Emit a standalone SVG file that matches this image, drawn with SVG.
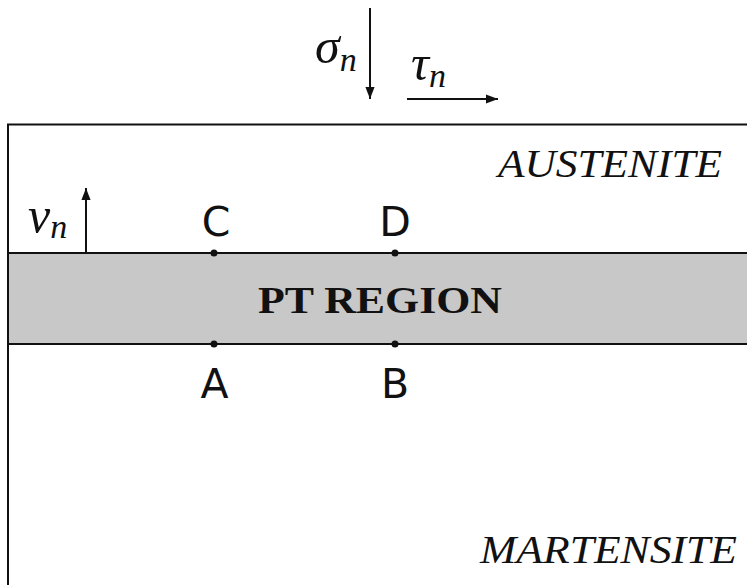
<svg xmlns="http://www.w3.org/2000/svg" width="747" height="585" viewBox="0 0 747 585">
<style>
.ln{stroke:#111;stroke-width:2;fill:none}
.ar{stroke:#111;stroke-width:2;fill:none}
.pt{font-family:"DejaVu Sans",sans-serif;font-size:41px;fill:#111;text-anchor:middle}
.math{font-family:"Liberation Serif",serif;font-style:italic;fill:#111}
.reg{font-family:"Liberation Serif",serif;font-style:italic;font-size:40px;fill:#111}
.dot{fill:#111}
</style>
<defs>
<marker id="ah2" viewBox="0 0 10 10" refX="10" refY="5" markerWidth="12" markerHeight="12" markerUnits="userSpaceOnUse" orient="auto">
<path d="M0,1.2 L10,5 L0,8.8 z" fill="#111"/>
</marker>
</defs>
<rect width="747" height="585" fill="#fff"/>
<g id="domain">
<rect x="8" y="253" width="745" height="91" fill="#c8c8c8"/>
<path class="ln" d="M8,585 V124.5 H747"/>
<path class="ln" d="M8,253 H747 M8,344 H747"/>
</g>
<g id="austenite"><text class="reg" x="498" y="177" textLength="224" lengthAdjust="spacingAndGlyphs">AUSTENITE</text></g>
<g id="martensite"><text class="reg" x="480" y="563" textLength="257" lengthAdjust="spacingAndGlyphs">MARTENSITE</text></g>
<g id="pt-region"><text x="258" y="313" font-family="Liberation Serif, serif" font-weight="bold" font-size="37" fill="#111" textLength="244" lengthAdjust="spacingAndGlyphs">PT REGION</text></g>
<g id="point-C"><circle class="dot" cx="214" cy="253" r="3.5"/><text class="pt" x="216" y="236">C</text></g>
<g id="point-D"><circle class="dot" cx="395" cy="253" r="3.5"/><text class="pt" x="395" y="236">D</text></g>
<g id="point-A"><circle class="dot" cx="214" cy="344" r="3.5"/><text class="pt" x="214.5" y="398">A</text></g>
<g id="point-B"><circle class="dot" cx="395" cy="344" r="3.5"/><text class="pt" x="395" y="398">B</text></g>
<g id="connectors">
<line class="ar" x1="370" y1="8" x2="370" y2="99" marker-end="url(#ah2)"/>
<line class="ar" x1="407" y1="99" x2="498" y2="99" marker-end="url(#ah2)"/>
<line class="ar" x1="86" y1="253" x2="86" y2="188" marker-end="url(#ah2)"/>
</g>
<g id="labels">
<text class="math" x="315" y="63" font-size="50">σ<tspan font-size="34" dy="8">n</tspan></text>
<text class="math" x="411" y="80" font-size="50">τ<tspan font-size="34" dy="7">n</tspan></text>
<text class="math" x="28" y="232" font-size="50">v<tspan font-size="34" dy="6">n</tspan></text>
</g>
</svg>
